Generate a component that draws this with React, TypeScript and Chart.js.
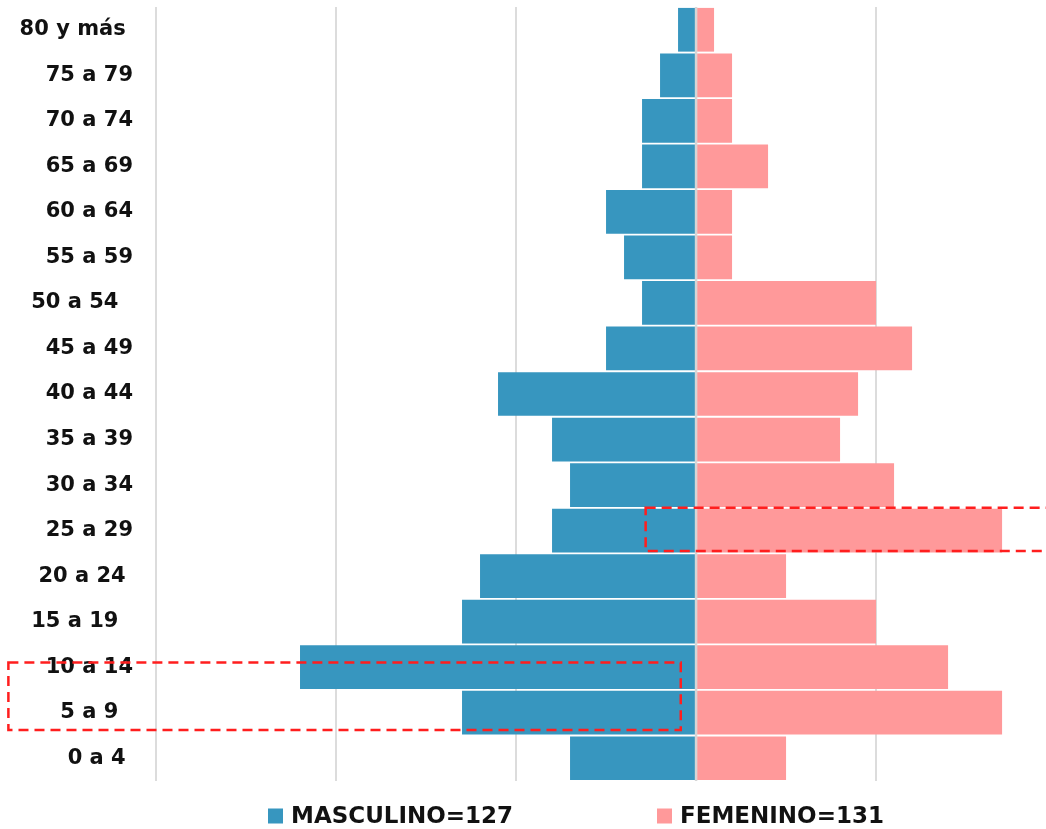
import React, { useEffect, useRef } from "react";
import { Chart, registerables } from "chart.js";

Chart.register(...registerables);

// ---- data ----
const categories = [
  "80 y más ",
  "75 a 79",
  "70 a 74",
  "65 a 69",
  "60 a 64",
  "55 a 59",
  "50 a 54  ",
  "45 a 49",
  "40 a 44",
  "35 a 39",
  "30 a 34",
  "25 a 29",
  "20 a 24 ",
  "15 a 19  ",
  "10 a 14",
  "5 a 9  ",
  "0 a 4 ",
];
const masculino = [1, 2, 3, 3, 5, 4, 3, 5, 11, 8, 7, 8, 12, 13, 22, 13, 7];
const femenino = [1, 2, 2, 4, 2, 2, 10, 12, 9, 8, 11, 17, 5, 10, 14, 17, 5];
const seriesLabels = ["MASCULINO=127", "FEMENINO=131"];
const seriesColors = ["#3796BF", "#FF999A"];
const xMin = -30;
const xMax = 19.44;
const gridStep = 10;

// highlight boxes (x in value units, y in category index units)
const boxAX = [-2.8, 23];
const boxAY = [10.5, 11.45];
const boxBX = [-38.2, -0.85];
const boxBY = [13.9, 15.38];
const highlightBoxes = [
  { x: boxAX, y: boxAY },
  { x: boxBX, y: boxBY },
];

const FONT = "'DejaVu Sans', sans-serif";

const overlayPlugin = {
  id: "overlay",
  afterDatasetsDraw(chart: any) {
    const { ctx, chartArea, scales } = chart;
    const xs = scales.x;
    const ys = scales.y;
    // zero line
    ctx.save();
    const x0 = xs.getPixelForValue(0);
    ctx.strokeStyle = "#d6d6d6";
    ctx.lineWidth = 2.5;
    ctx.beginPath();
    ctx.moveTo(x0, chartArea.top);
    ctx.lineTo(x0, chartArea.bottom);
    ctx.stroke();
    // highlight boxes
    ctx.strokeStyle = "#FF1E1E";
    ctx.lineWidth = 2.5;
    ctx.setLineDash([10, 6]);
    highlightBoxes.forEach((b) => {
      const l = xs.getPixelForValue(b.x[0]);
      const r = xs.getPixelForValue(b.x[1]);
      const t = ys.getPixelForValue(b.y[0]);
      const bt = ys.getPixelForValue(b.y[1]);
      ctx.strokeRect(l, t, r - l, bt - t);
    });
    ctx.restore();
  },
  afterDraw(chart: any) {
    const { ctx } = chart;
    ctx.save();
    const starts = [268, 657];
    const yMid = 816;
    ctx.font = `bold 23px ${FONT}`;
    ctx.textBaseline = "middle";
    ctx.textAlign = "left";
    chart.data.datasets.forEach((ds: any, i: number) => {
      const x = starts[i];
      ctx.fillStyle = ds.backgroundColor;
      ctx.fillRect(x, yMid - 7.5, 15, 15);
      ctx.fillStyle = "#111111";
      ctx.fillText(ds.label, x + 23, yMid + 1);
    });
    ctx.restore();
  },
};

export default function App() {
  const ref = useRef<HTMLCanvasElement | null>(null);

  useEffect(() => {
    if (!ref.current) return;
    const chart = new Chart(ref.current, {
      type: "bar",
      data: {
        labels: categories,
        datasets: [
          {
            label: seriesLabels[0],
            data: masculino.map((v) => -v),
            backgroundColor: seriesColors[0],
            barPercentage: 0.96,
            categoryPercentage: 1,
          },
          {
            label: seriesLabels[1],
            data: femenino,
            backgroundColor: seriesColors[1],
            barPercentage: 0.96,
            categoryPercentage: 1,
          },
        ],
      },
      options: {
        indexAxis: "y",
        responsive: false,
        animation: false,
        layout: { padding: { top: 7, bottom: 48, left: 0, right: 0 } },
        plugins: {
          legend: { display: false },
          tooltip: { enabled: false },
        },
        scales: {
          x: {
            type: "linear",
            min: xMin,
            max: xMax,
            stacked: true,
            grid: {
              color: (c: any) =>
                c.tick && Math.abs(c.tick.value % gridStep) < 1e-6 ? "#dcdcdc" : "rgba(0,0,0,0)",
              lineWidth: 2,
              drawTicks: false,
            },
            border: { display: false },
            ticks: { display: false, stepSize: gridStep },
            afterFit: (s: any) => {
              s.height = 0;
              s.paddingLeft = 0;
              s.paddingRight = 0;
            },
          },
          y: {
            stacked: true,
            grid: { display: false, drawTicks: false },
            border: { display: false },
            ticks: {
              autoSkip: false,
              padding: 23,
              color: "#111111",
              font: { family: FONT, weight: "bold", size: 21 },
            },
            afterFit: (s: any) => {
              s.width = 156;
              s.paddingTop = 0;
              s.paddingBottom = 0;
            },
          },
        },
      },
      plugins: [overlayPlugin],
    } as any);
    return () => chart.destroy();
  }, []);

  return (
    <div
      style={{
        position: "fixed",
        left: 0,
        top: 0,
        width: 1046,
        height: 829,
        background: "#ffffff",
      }}
    >
      <canvas ref={ref} width={1046} height={829} style={{ display: "block" }} />
    </div>
  );
}
